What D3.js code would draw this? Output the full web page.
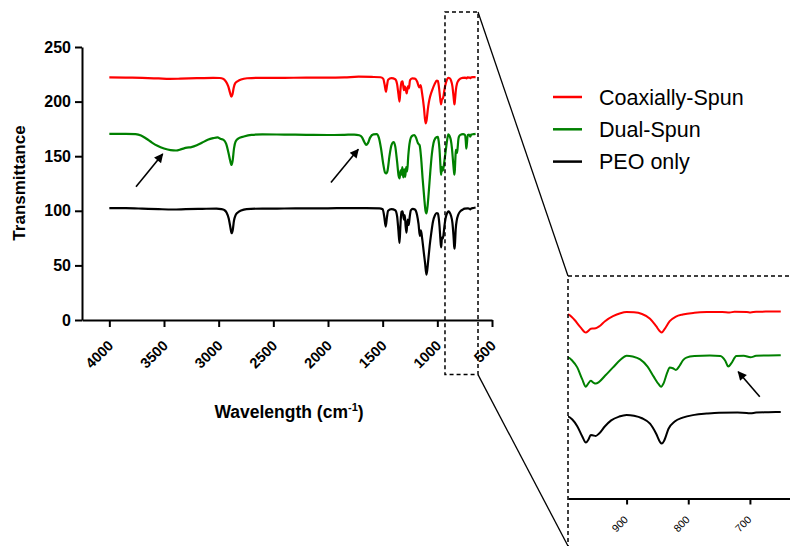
<!DOCTYPE html>
<html>
<head>
<meta charset="utf-8">
<script src="https://cdn.jsdelivr.net/npm/d3@7"></script>
<style>
  body { margin: 0; background: #fff; }
  svg { display: block; font-family: "Liberation Sans", Arial, sans-serif; }
</style>
</head>
<body>
<script>
// spectres FTIR : [nombre d'onde (cm-1), transmittance]
const coaxiallySpun = [
  [4000,222.2],[3850,222],[3700,221.7],[3550,221.2],[3450,220.8],[3350,221],[3200,221.5],[3050,221.8],
  [2990,221.6],[2960,221],[2935,218.5],[2912,214],[2897,208.5],[2884,204.5],[2874,206.5],[2862,213],
  [2848,217],[2825,218.8],[2795,220.3],[2740,221.4],[2600,221.8],[2400,221.8],[2200,221.9],[2000,222],
  [1850,222.2],[1720,222.8],[1600,222.6],[1520,222.3],[1495,221],[1483,216],[1470,209],[1460,215],
  [1450,220],[1420,221.5],[1385,220.5],[1368,216],[1356,207],[1346,200],[1338,210],[1328,218],
  [1318,218.5],[1306,210.5],[1298,214],[1290,212],[1280,207.5],[1270,214],[1260,212],[1250,219.5],
  [1230,221.3],[1205,221],[1185,218.5],[1165,213],[1153,215],[1140,208],[1122,194],[1108,180],
  [1098,183],[1088,192],[1078,199],[1065,205],[1045,211],[1025,216],[1005,219.3],[995,219],
  [985,213],[975,204],[966,197.5],[962,199.5],[958,202],[954,202.3],[950,202.6],[944,205],
  [935,211],[922,217],[910,220.5],[900,221.8],[888,221.5],[875,219.5],[862,214],[852,205],
  [846,199],[843,197.5],[839,201],[830,211],[820,216.5],[809,219],[790,221],[770,221.8],
  [745,222],[733,221.3],[725,222.2],[705,222],[699,221.4],[690,222.2],[670,222.4],[650,222.5]
];
const dualSpun = [
  [4000,170.5],[3850,170.5],[3760,170.2],[3710,169],[3660,166],[3610,162.5],[3560,159.5],[3500,157],
  [3440,155.5],[3390,155.2],[3340,156.5],[3290,157.8],[3250,158.3],[3200,160],[3150,162.5],[3100,165],
  [3050,166.5],[3010,167.2],[2985,166],[2955,165],[2932,161.5],[2910,153],[2895,146],[2882,142],
  [2872,146],[2860,157],[2845,163.5],[2815,166.5],[2770,168],[2700,169.5],[2600,170],[2400,169.8],
  [2200,169.6],[2000,169.4],[1850,169.6],[1760,169.8],[1715,169.2],[1690,167.5],[1668,163],[1650,160.3],
  [1635,162],[1615,167],[1585,170],[1555,170.2],[1535,167],[1515,157],[1495,143],[1478,135],
  [1467,134.3],[1455,137],[1438,150],[1420,160],[1400,163],[1385,159],[1368,145],[1354,132],
  [1345,129.7],[1336,137],[1328,133],[1320,140],[1312,130.5],[1302,138],[1294,131],[1285,140],
  [1276,136],[1266,150],[1255,161],[1242,167],[1225,169],[1210,169.4],[1195,167],[1178,162],
  [1162,160],[1148,148],[1135,130],[1120,112],[1108,100],[1100,97.7],[1092,102],[1080,115],
  [1065,135],[1050,152],[1035,162],[1018,166.5],[1005,167.5],[995,167.7],[988,164],[980,156],
  [972,142],[966,133],[962,137],[958,140],[954,138],[950,136.8],[945,138.5],[935,146],
  [922,156],[910,165],[900,170],[890,169],[878,165.5],[866,157],[856,145],[848,136],
  [844,133],[840,137],[834,150],[830,155.8],[825,155],[820,153],[814,158],[808,165],
  [803,167.7],[790,169.5],[765,170.2],[748,169.5],[740,164],[735,157],[730,161],[722,169.5],
  [710,169.8],[699,168],[690,169.8],[670,170.2],[650,170.5]
];
const peoOnly = [
  [4000,102.5],[3850,102.4],[3700,102],[3550,101.5],[3420,101.2],[3300,101.5],[3150,101.8],[3020,102],
  [2975,101.6],[2950,100.8],[2928,98.5],[2908,93],[2893,85],[2882,79.5],[2872,82],[2860,91],
  [2845,96],[2825,98.5],[2795,100.3],[2745,101.6],[2600,102],[2400,102.1],[2200,102.2],[2000,102.3],
  [1800,102.5],[1650,102.5],[1530,102.3],[1500,101.5],[1486,95],[1472,85.5],[1461,94],[1450,100],
  [1420,101.5],[1385,100.5],[1368,95],[1356,82],[1346,70.5],[1338,86],[1328,99],[1318,99.5],
  [1306,92],[1298,96],[1290,86],[1282,80],[1272,92],[1262,87],[1252,95],[1242,100.5],
  [1225,101.8],[1205,101.2],[1185,96],[1172,88],[1160,77],[1150,82],[1138,74],[1124,62],
  [1112,52],[1100,41.5],[1092,46],[1082,56],[1070,68],[1055,80],[1040,90],[1022,96],
  [1005,97.8],[995,97.5],[988,94],[980,86],[972,74],[966,66.5],[962,70],[958,75.5],
  [954,75],[950,74.5],[945,77],[935,86],[925,93],[912,97.5],[900,99.4],[888,98.5],
  [875,95.5],[862,89],[852,77],[846,67.5],[843,65.3],[839,69],[832,83],[822,91.5],
  [809,96.3],[790,99.5],[770,101],[750,102],[720,102.3],[705,101.8],[699,101.3],[690,102.2],
  [670,102.6],[650,103]
];

const seriesNames = ["Coaxially-Spun", "Dual-Spun", "PEO only"];
const seriesColors = ["#ff0000", "#008000", "#000000"];
const xTicks = [4000, 3500, 3000, 2500, 2000, 1500, 1000, 500];
const yTicks = [0, 50, 100, 150, 200, 250];
const insetTicks = [900, 800, 700];
// flèches : [début, pointe] en coordonnées des données
const mainArrows = [[[3756, 122], [3512, 152]], [[1973, 126], [1723, 156.3]]];
const insetArrows = [[[684, 121], [719, 150.9]]];
// zone agrandie : nombres d'onde et transmittance du cadre pointillé
const zoomBox = { from: 930, to: 628, top: 282, bottom: -50 };

const allSeries = [coaxiallySpun, dualSpun, peoOnly];

const W = 790, H = 546;
const svg = d3.select("body").append("svg").attr("width", W).attr("height", H);
svg.append("rect").attr("width", W).attr("height", H).attr("fill", "#fff");

const defs = svg.append("defs");
defs.append("marker")
  .attr("id", "head")
  .attr("viewBox", "0 0 10 10")
  .attr("refX", 9).attr("refY", 5)
  .attr("markerUnits", "userSpaceOnUse")
  .attr("markerWidth", 11).attr("markerHeight", 9)
  .attr("orient", "auto")
  .append("path").attr("d", "M0,0 L10,5 L0,10 z").attr("fill", "#000");

// échelles principales
const x = d3.scaleLinear().domain([4250, 500]).range([82, 492]);
const y = d3.scaleLinear().domain([0, 250]).range([320, 47]);

const line = d3.line()
  .x(d => x(d[0])).y(d => y(d[1]))
  .curve(d3.curveMonotoneX);

allSeries.forEach((s, i) => {
  svg.append("path").datum(s)
    .attr("d", line)
    .attr("fill", "none")
    .attr("stroke", seriesColors[i])
    .attr("stroke-width", 2.2)
    .attr("stroke-linejoin", "round");
});

// axes
const fmt = d3.format("d");
const gx = svg.append("g")
  .attr("transform", "translate(0," + y(0) + ")")
  .call(d3.axisBottom(x).tickValues(xTicks).tickFormat(fmt).tickSize(7).tickSizeOuter(0));
gx.selectAll("text")
  .attr("x", 0).attr("y", 0).attr("dy", 0)
  .attr("text-anchor", "end")
  .attr("transform", "translate(4.5,26.5) rotate(-45)")
  .style("font-size", "14.5px").style("font-weight", "bold")
  .style("font-family", "'Liberation Sans', Arial, sans-serif");

const gy = svg.append("g")
  .attr("transform", "translate(" + x(4250) + ",0)")
  .call(d3.axisLeft(y).tickValues(yTicks).tickFormat(fmt).tickSize(7).tickPadding(4).tickSizeOuter(0));
gy.selectAll("text")
  .style("font-size", "16px").style("font-weight", "bold")
  .style("font-family", "'Liberation Sans', Arial, sans-serif");

[gx, gy].forEach(g => {
  g.selectAll("path, line").attr("stroke", "#000").attr("stroke-width", 2);
  g.selectAll("text").attr("fill", "#000");
});

svg.append("text")
  .attr("transform", "translate(25,183) rotate(-90)")
  .attr("text-anchor", "middle")
  .style("font-size", "17px").style("font-weight", "bold")
  .text("Transmittance");

const xt = svg.append("text")
  .attr("x", 289).attr("y", 418)
  .attr("text-anchor", "middle")
  .style("font-size", "17.5px").style("font-weight", "bold");
xt.append("tspan").text("Wavelength (cm");
xt.append("tspan").attr("dy", -7).style("font-size", "11px").text("-1");
xt.append("tspan").attr("dy", 7).text(")");

// flèches du graphe principal
mainArrows.forEach(a => {
  svg.append("line")
    .attr("x1", x(a[0][0])).attr("y1", y(a[0][1]))
    .attr("x2", x(a[1][0])).attr("y2", y(a[1][1]))
    .attr("stroke", "#000").attr("stroke-width", 1.6)
    .attr("marker-end", "url(#head)");
});

// légende
seriesNames.forEach((name, i) => {
  const ly = 97 + i * 32.3;
  svg.append("line")
    .attr("x1", 553).attr("x2", 582).attr("y1", ly).attr("y2", ly)
    .attr("stroke", seriesColors[i]).attr("stroke-width", 2.5);
  svg.append("text")
    .attr("x", 599).attr("y", ly + 7.8)
    .style("font-size", "21.5px")
    .attr("fill", "#000")
    .text(name);
});

// encart (zoom)
const xi = d3.scaleLinear().domain([995, 635]).range([568, 790]);
const yi = d3.scaleLinear().domain([0, 260]).range([498.5, 280]);

defs.append("clipPath").attr("id", "insetClip")
  .append("rect").attr("x", 568).attr("y", 276).attr("width", 230).attr("height", 230);

const lineInset = d3.line()
  .x(d => xi(d[0])).y(d => yi(d[1]))
  .curve(d3.curveMonotoneX);

const gi = svg.append("g").attr("clip-path", "url(#insetClip)");
allSeries.forEach((s, i) => {
  gi.append("path").datum(s)
    .attr("d", lineInset)
    .attr("fill", "none")
    .attr("stroke", seriesColors[i])
    .attr("stroke-width", 2)
    .attr("stroke-linejoin", "round");
});

const gxi = svg.append("g")
  .attr("transform", "translate(0," + yi(0) + ")")
  .call(d3.axisBottom(xi).tickValues(insetTicks).tickFormat(fmt).tickSize(6).tickSizeOuter(0));
gxi.selectAll("path, line").attr("stroke", "#000").attr("stroke-width", 2);
gxi.selectAll("text")
  .attr("x", 0).attr("y", 0).attr("dy", 0)
  .attr("text-anchor", "end")
  .attr("transform", "translate(1.6,21.8) rotate(-45)")
  .attr("fill", "#000")
  .style("font-size", "10.5px")
  .style("font-family", "'Liberation Sans', Arial, sans-serif");

insetArrows.forEach(a => {
  svg.append("line")
    .attr("x1", xi(a[0][0])).attr("y1", yi(a[0][1]))
    .attr("x2", xi(a[1][0])).attr("y2", yi(a[1][1]))
    .attr("stroke", "#000").attr("stroke-width", 1.6)
    .attr("marker-end", "url(#head)");
});

// cadres pointillés et lignes de liaison
const bx0 = x(zoomBox.from), bx1 = x(zoomBox.to);
const by0 = y(zoomBox.top), by1 = y(zoomBox.bottom);
svg.append("rect")
  .attr("x", bx0).attr("y", by0)
  .attr("width", bx1 - bx0).attr("height", by1 - by0)
  .attr("fill", "none").attr("stroke", "#000")
  .attr("stroke-width", 1.5).attr("stroke-dasharray", "4,3");

svg.append("rect")
  .attr("x", 568).attr("y", 276)
  .attr("width", 260).attr("height", 300)
  .attr("fill", "none").attr("stroke", "#000")
  .attr("stroke-width", 1.5).attr("stroke-dasharray", "4,3");

svg.append("line")
  .attr("x1", bx1).attr("y1", by0).attr("x2", 568).attr("y2", 276)
  .attr("stroke", "#000").attr("stroke-width", 1.3);
svg.append("line")
  .attr("x1", bx1).attr("y1", by1).attr("x2", 568).attr("y2", 546)
  .attr("stroke", "#000").attr("stroke-width", 1.3);
</script>
</body>
</html>
